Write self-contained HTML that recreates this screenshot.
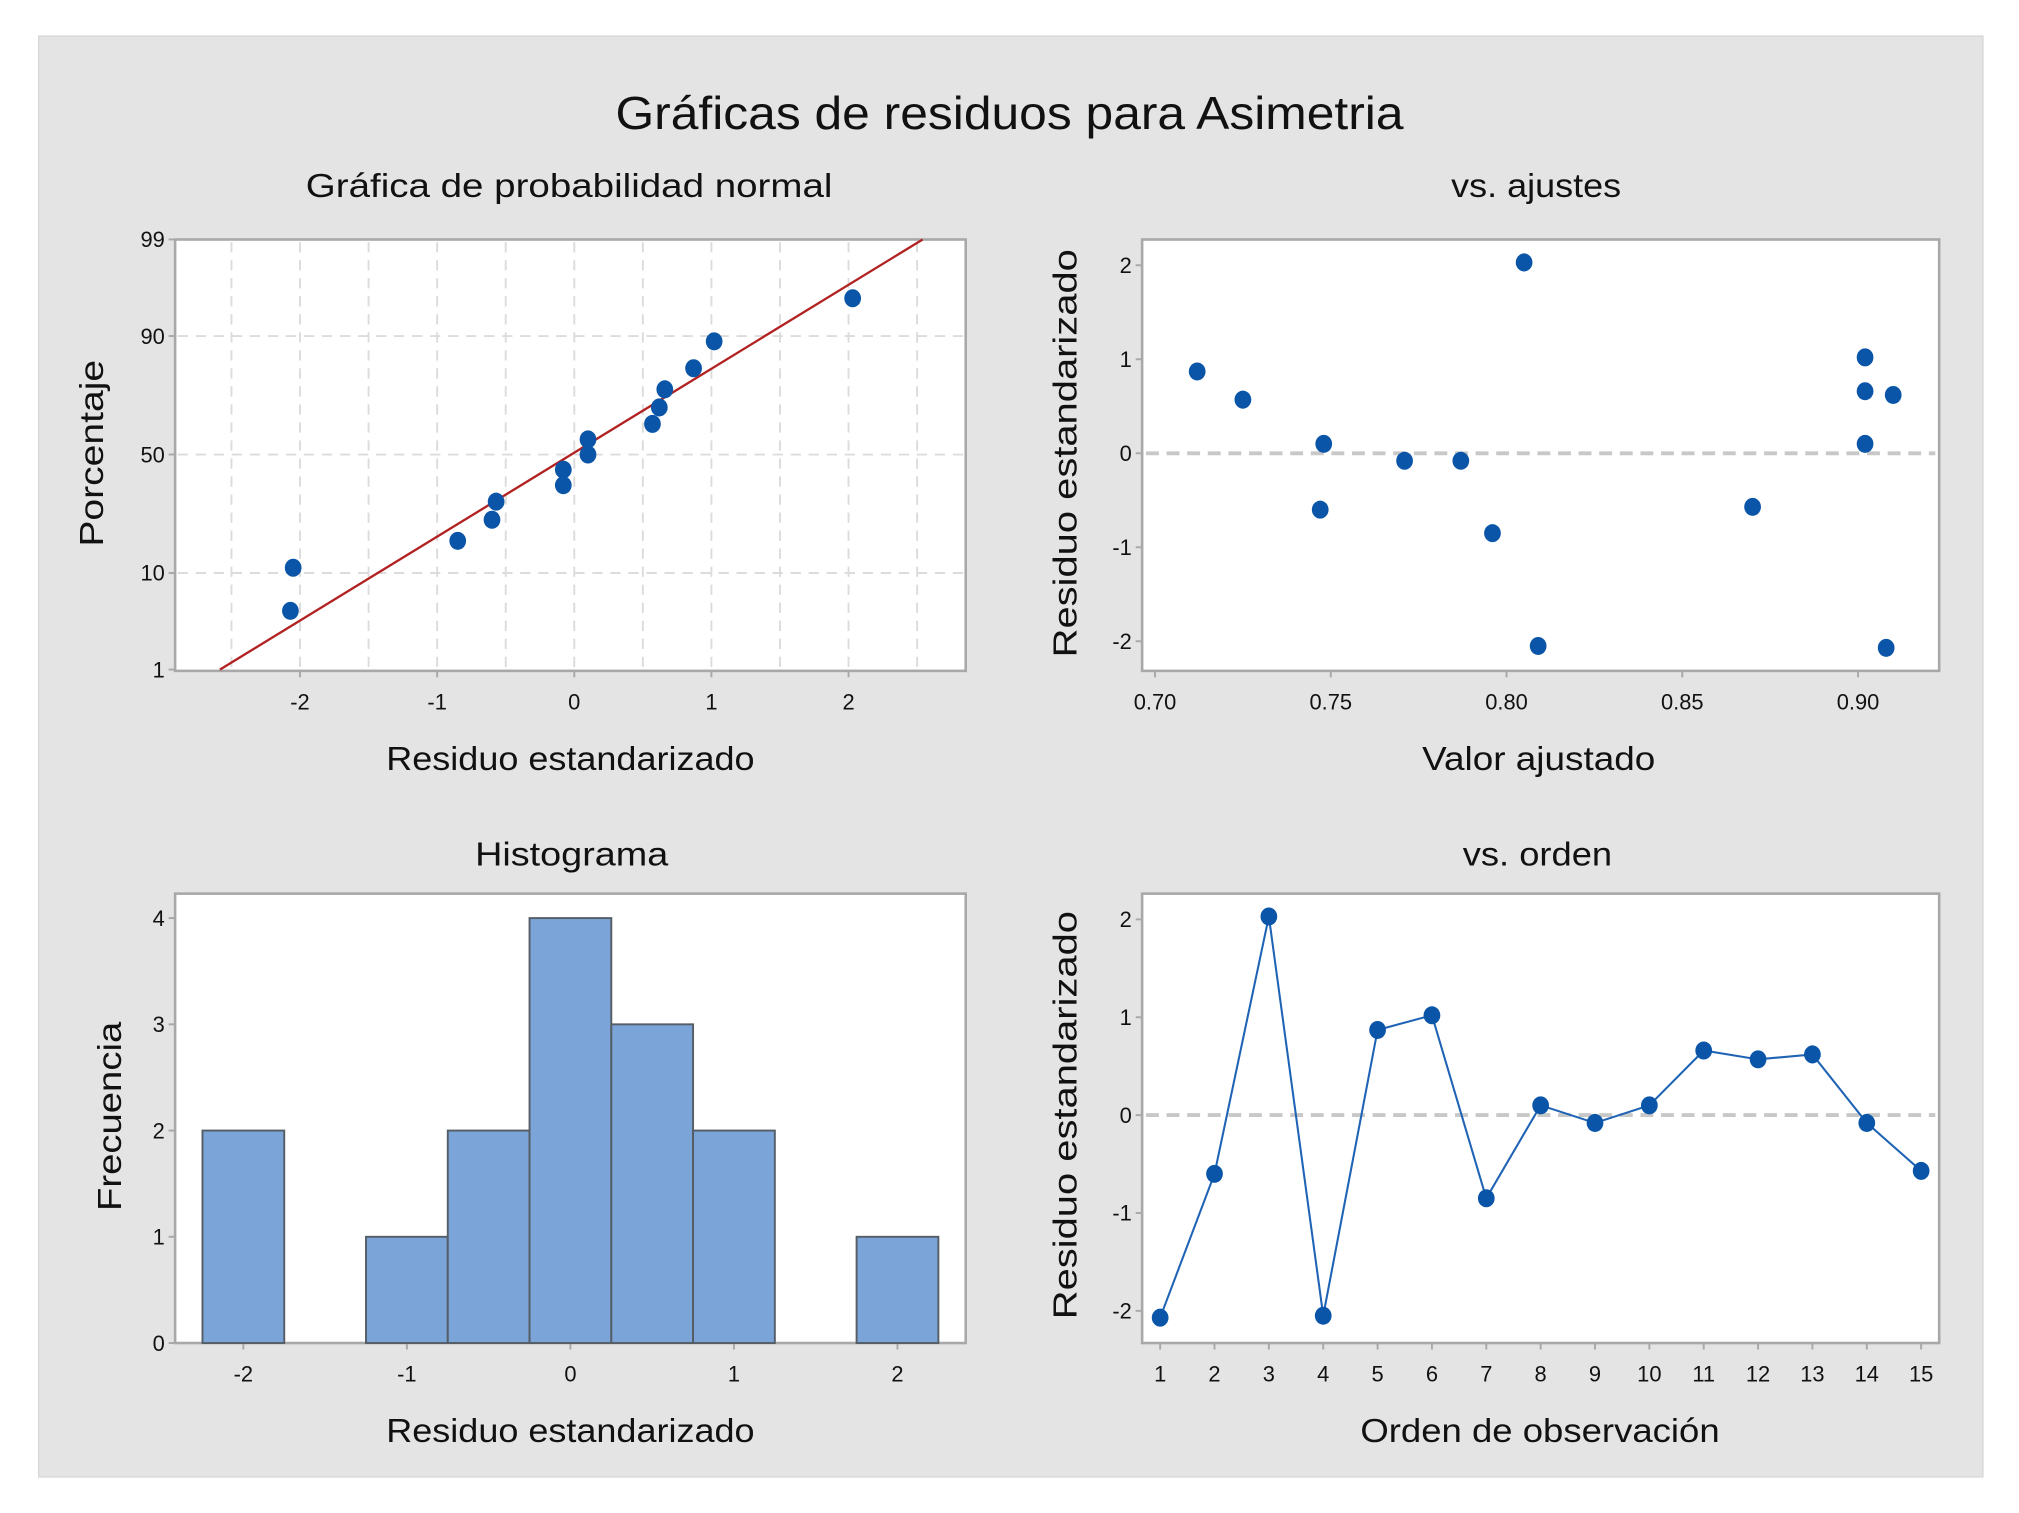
<!DOCTYPE html>
<html><head><meta charset="utf-8"><style>
html,body{margin:0;padding:0;background:#fff;}
svg{display:block;}
text{font-family:"Liberation Sans",sans-serif;fill:#111;}
</style></head><body>
<svg id="c" width="2019" height="1513" viewBox="0 0 1568 1175" preserveAspectRatio="none" xmlns="http://www.w3.org/2000/svg">
<rect x="30" y="28" width="1510" height="1119" fill="#e4e4e4" stroke="#d6d6d6"/>
<text x="784" y="100" text-anchor="middle" font-size="36" textLength="612" lengthAdjust="spacingAndGlyphs">Gráficas de residuos para Asimetria</text>
<g id="g"></g>
</svg>
<script>
// observed standardized residuals by order
const orderObs = [1,2,3,4,5,6,7,8,9,10,11,12,13,14,15];
const residuals = [-2.07,-0.60,2.03,-2.05,0.87,1.02,-0.85,0.10,-0.08,0.10,0.66,0.57,0.62,-0.08,-0.57];
const fittedValues = [0.908,0.747,0.805,0.809,0.712,0.902,0.796,0.748,0.771,0.902,0.902,0.725,0.910,0.787,0.870];
// histogram
const histBinCenters = [-2,-1.5,-1,-0.5,0,0.5,1,1.5,2];
const histCounts = [2,0,1,2,4,3,2,0,1];
// tick labels
const probTicks = [1,10,50,90,99];
const residTicks = [-2,-1,0,1,2];
const fitTicks = [0.70,0.75,0.80,0.85,0.90];
const freqTicks = [0,1,2,3,4];

const NS='http://www.w3.org/2000/svg';
const G=document.getElementById('g');
function el(tag,attrs,parent,txt){const e=document.createElementNS(NS,tag);for(const k in attrs)e.setAttribute(k,attrs[k]);if(txt!==undefined)e.textContent=txt;(parent||G).appendChild(e);return e;}
function lin(d0,d1,r0,r1){return v=>r0+(v-d0)/(d1-d0)*(r1-r0);}
function qnorm(p){ // Acklam approximation
 const a=[-39.69683028665376,220.9460984245205,-275.9285104469687,138.357751867269,-30.66479806614716,2.506628277459239];
 const b=[-54.47609879822406,161.5858368580409,-155.6989798598866,66.80131188771972,-13.28068155288572];
 const c=[-0.007784894002430293,-0.3223964580411365,-2.400758277161838,-2.549732539343734,4.374664141464968,2.938163982698783];
 const d=[0.007784695709041462,0.3224671290700398,2.445134137142996,3.754408661907416];
 let q,r;
 if(p<0.02425){q=Math.sqrt(-2*Math.log(p));return (((((c[0]*q+c[1])*q+c[2])*q+c[3])*q+c[4])*q+c[5])/((((d[0]*q+d[1])*q+d[2])*q+d[3])*q+1);}
 if(p>1-0.02425){q=Math.sqrt(-2*Math.log(1-p));return -(((((c[0]*q+c[1])*q+c[2])*q+c[3])*q+c[4])*q+c[5])/((((d[0]*q+d[1])*q+d[2])*q+d[3])*q+1);}
 q=p-0.5;r=q*q;return (((((a[0]*r+a[1])*r+a[2])*r+a[3])*r+a[4])*r+a[5])*q/(((((b[0]*r+b[1])*r+b[2])*r+b[3])*r+b[4])*r+1);
}
const BLUE='#0a55a8';
function frame(name,x0,y0,x1,y1){
 const r=el('rect',{x:x0,y:y0,width:x1-x0,height:y1-y0,fill:'#fff',stroke:'#a8a8a8','stroke-width':2});
 
 
}
function text(name,x,y,s,size,len,rot){
 const a={x:x,y:y,'text-anchor':'middle','font-size':size};
 if(len){a.textLength=len;a.lengthAdjust='spacingAndGlyphs';}
 if(rot)a.transform='rotate(-90 '+x+' '+y+')';
 const t=el('text',a,G,s);
 
 
 return t;
}
function yTick(name,x0,y,label){
 const l=el('line',{x1:x0-5,y1:y,x2:x0,y2:y,stroke:'#a8a8a8','stroke-width':1.5});
 
 
 const t=el('text',{x:x0-8,y:y+6,'text-anchor':'end','font-size':17},G,label);
 
 
}
function xTick(name,x,y0,label){
 const l=el('line',{x1:x,y1:y0,x2:x,y2:y0+5,stroke:'#a8a8a8','stroke-width':1.5});
 
 
 const t=el('text',{x:x,y:y0+30,'text-anchor':'middle','font-size':17},G,label);
 
 
}
function dot(name,x,y){
 const c=el('ellipse',{cx:x,cy:y,rx:6.5,ry:7,fill:BLUE});
 
 
}

// ---- Panel 1: normal probability plot
(function(){
 const X0=136,X1=750,Y0=186,Y1=521;
 const sx=lin(0,2,446,659);
 const sz=lin(0,2.326,353,186);
 frame('probability-plot-area',X0,Y0,X1,Y1);
 for(let v=-2.5;v<=2.5;v+=0.5){const l=el('line',{x1:sx(v),y1:Y0+2,x2:sx(v),y2:Y1-2,stroke:'#dcdcdc','stroke-width':1.5,'stroke-dasharray':'8,6'});
  }
 [10,50,90].forEach(p=>{const l=el('line',{x1:X0+2,y1:sz(qnorm(p/100)),x2:X1-2,y2:sz(qnorm(p/100)),stroke:'#dcdcdc','stroke-width':1.5,'stroke-dasharray':'8,6'});
  });
 probTicks.forEach(p=>yTick('prob-y-'+p,X0,sz(qnorm(p/100)),String(p)));
 residTicks.forEach(v=>xTick('prob-x-'+v,sx(v),Y1,String(v)));
 // fitted normal line
 const n=residuals.length,mean=residuals.reduce((a,b)=>a+b,0)/n;
 const sd=Math.sqrt(residuals.reduce((a,b)=>a+(b-mean)*(b-mean),0)/(n-1));
 const xa=mean+sd*qnorm(0.01),xb=mean+sd*qnorm(0.99);
 const rl=el('line',{x1:sx(xa),y1:sz(qnorm(0.01)),x2:sx(xb),y2:sz(qnorm(0.99)),stroke:'#b22222','stroke-width':1.8});
 
 const sorted=residuals.slice().sort((a,b)=>a-b);
 sorted.forEach((v,i)=>{const p=(i+1-0.3)/(n+0.4);dot('prob-point',sx(v),sz(qnorm(p)));});
 text('prob-subtitle',442,153,'Gráfica de probabilidad normal',26,409);
 text('prob-x-title',443,598,'Residuo estandarizado',26,286);
 text('prob-y-title',80,352,'Porcentaje',26,145,true);
})();

// ---- Panel 2: vs fits
(function(){
 const X0=887,X1=1506,Y0=186,Y1=521;
 const sx=lin(0.70,0.90,897,1443);
 const sy=lin(0,2,352,206);
 frame('fits-plot-area',X0,Y0,X1,Y1);
 const z=el('line',{x1:X0+3,y1:sy(0),x2:X1-3,y2:sy(0),stroke:'#c8c8c8','stroke-width':3,'stroke-dasharray':'10,6'});
 
 residTicks.forEach(v=>yTick('fits-y-'+v,X0,sy(v),String(v)));
 fitTicks.forEach(v=>xTick('fits-x-'+v,sx(v),Y1,v.toFixed(2)));
 residuals.forEach((r,i)=>dot('fits-point',sx(fittedValues[i]),sy(r)));
 text('fits-subtitle',1193,153,'vs. ajustes',26,132);
 text('fits-x-title',1195,598,'Valor ajustado',26,181);
 text('fits-y-title',836,352,'Residuo estandarizado',26,317,true);
})();

// ---- Panel 3: histogram
(function(){
 const X0=136,X1=750,Y0=694,Y1=1043;
 const sx=lin(0,2,443,697);
 const sy=lin(0,4,1043,713);
 frame('histogram-plot-area',X0,Y0,X1,Y1);
 freqTicks.forEach(v=>yTick('hist-y-'+v,X0,sy(v),String(v)));
 residTicks.forEach(v=>xTick('hist-x-'+v,sx(v),Y1,String(v)));
 histBinCenters.forEach((c,i)=>{if(!histCounts[i])return;
  const b=el('rect',{x:sx(c-0.25),y:sy(histCounts[i]),width:sx(c+0.25)-sx(c-0.25),height:sy(0)-sy(histCounts[i]),fill:'#7ba5d8',stroke:'#555d66','stroke-width':1.5});
  });
 text('hist-subtitle',444,672,'Histograma',26,150);
 text('hist-x-title',443,1120,'Residuo estandarizado',26,286);
 text('hist-y-title',94,867,'Frecuencia',26,147,true);
})();

// ---- Panel 4: vs order
(function(){
 const X0=887,X1=1506,Y0=694,Y1=1043;
 const sx=lin(1,15,901,1492);
 const sy=lin(0,2,866,714);
 frame('order-plot-area',X0,Y0,X1,Y1);
 const z=el('line',{x1:X0+3,y1:sy(0),x2:X1-3,y2:sy(0),stroke:'#c8c8c8','stroke-width':3,'stroke-dasharray':'10,6'});
 
 residTicks.forEach(v=>yTick('order-y-'+v,X0,sy(v),String(v)));
 orderObs.forEach(v=>xTick('order-x-'+v,sx(v),Y1,String(v)));
 const pl=el('polyline',{points:residuals.map((r,i)=>sx(orderObs[i])+','+sy(r)).join(' '),fill:'none',stroke:'#1f63b5','stroke-width':1.6});
 
 residuals.forEach((r,i)=>dot('order-point',sx(orderObs[i]),sy(r)));
 text('order-subtitle',1194,672,'vs. orden',26,116);
 text('order-x-title',1196,1120,'Orden de observación',26,279);
 text('order-y-title',836,866,'Residuo estandarizado',26,317,true);
})();
</script>
</body></html>
